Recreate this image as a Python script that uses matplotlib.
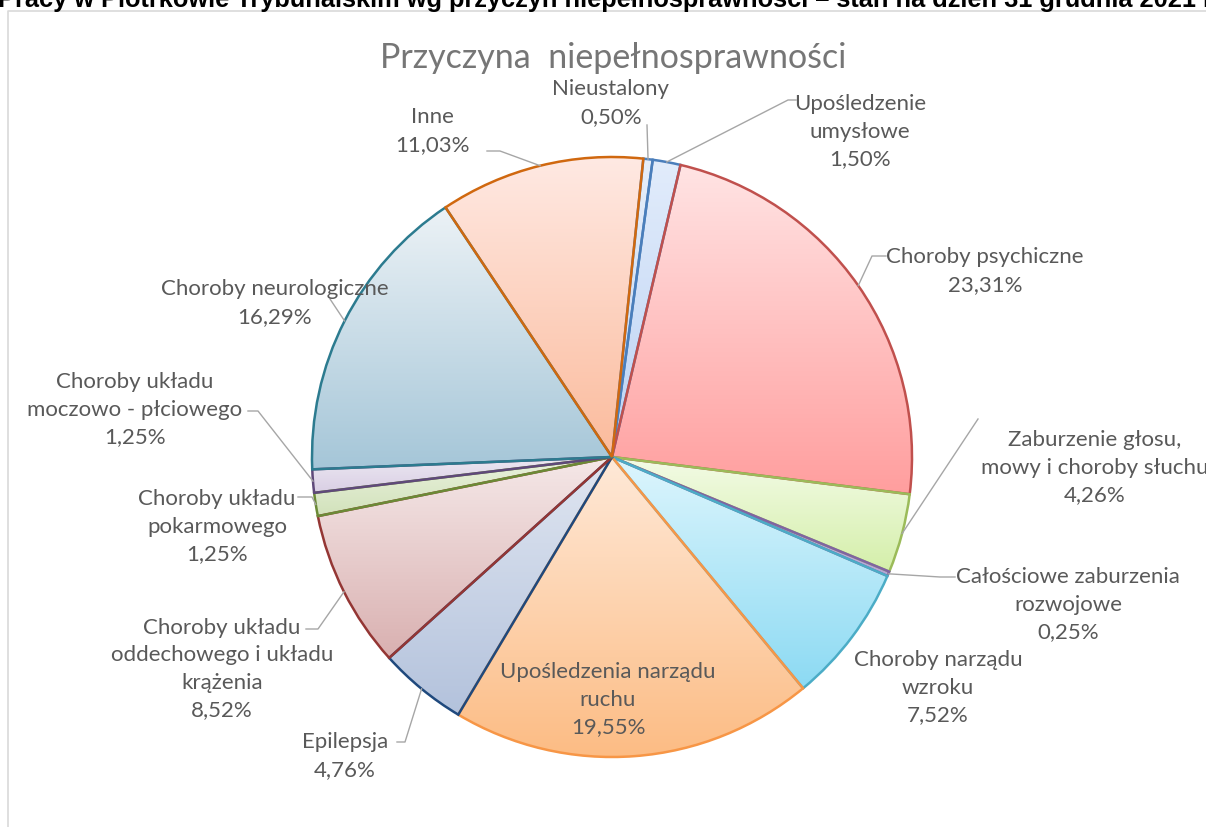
import numpy as np
import matplotlib
matplotlib.use("Agg")
import matplotlib.pyplot as plt
from matplotlib.colors import to_rgb

# ---------------- data ----------------
categories = [
    "Nieustalony",
    "Upośledzenie\numysłowe",
    "Choroby psychiczne",
    "Zaburzenie głosu,\nmowy i choroby słuchu",
    "Całościowe zaburzenia\nrozwojowe",
    "Choroby narządu\nwzroku",
    "Upośledzenia narządu\nruchu",
    "Epilepsja",
    "Choroby układu\noddechowego i układu\nkrążenia",
    "Choroby układu\npokarmowego",
    "Choroby układu\nmoczowo - płciowego",
    "Choroby neurologiczne",
    "Inne",
]
values = [0.50, 1.50, 23.31, 4.26, 0.25, 7.52, 19.55, 4.76, 8.52, 1.25, 1.25, 16.29, 11.03]

chart_title = "Przyczyna  niepełnosprawności"
header_text = ("Pracy w Piotrkowie Trybunalskim wg przyczyn niepełnosprawności – "
               "stan na dzień 31 grudnia 2021 r.")

# ---------------- styles ----------------
grad_top = ["#e6eefa", "#e2ecfb", "#ffe4e4", "#f3fbe6", "#d6cdea", "#def6fd", "#ffe9d8",
            "#e0e6f1", "#f5e8e8", "#eaf2de", "#ece7f2", "#ecf2f6", "#ffe9e3"]
grad_bot = ["#c3d6f2", "#bcd3f4", "#ff9e9e", "#d4efa9", "#b6a6d6", "#8cdaf3", "#fcbc84",
            "#b3c2dc", "#d9b0b0", "#d2e2bb", "#d9cfe4", "#a5c6d8", "#fbbb9c"]
edge_cols = ["#4f81bd", "#4a7ebb", "#c0504d", "#9bbb59", "#8064a2", "#4bacc6", "#f79646",
             "#1f497d", "#943634", "#6b8a36", "#5f497a", "#2c7b8f", "#d0680f"]
label_col = "#595959"
leader_col = "#a6a6a6"

W, H = 1206, 828
cx, cy, R = 612, 458, 300


def P(px, py):
    """pixel (from top-left) -> data coords (pie radius = 1)"""
    return ((px - cx) / R, (cy - py) / R)


fig = plt.figure(figsize=(W / 100, H / 100), dpi=100)
ax = fig.add_axes([0, 0, 1, 1])

wedges, _ = ax.pie(values, startangle=90 - 6, counterclock=False, radius=1,
                   center=(0, 0),
                   wedgeprops=dict(linewidth=1.8, facecolor="none"))

# gradient fill clipped to each wedge
n = 256
t = np.linspace(0, 1, n)[:, None]
for w, c0, c1, ec in zip(wedges, grad_top, grad_bot, edge_cols):
    w.set_edgecolor(ec)
    w.set_zorder(2)
    a, b = np.array(to_rgb(c0)), np.array(to_rgb(c1))
    img = (a[None, :] * (1 - t) + b[None, :] * t)[:, None, :]
    img = np.repeat(img, 2, axis=1)
    bb = w.get_path().get_extents()
    im = ax.imshow(img, extent=(bb.x0, bb.x1, bb.y0, bb.y1), origin="upper",
                   aspect="auto", zorder=1, interpolation="bilinear")
    im.set_clip_path(w)

ax.set_xlim(-cx / R, (W - cx) / R)
ax.set_ylim((cy - H) / R, cy / R)
ax.set_aspect("auto")
ax.axis("off")

# ---------------- labels ----------------
FONT = "Lato"
fs = 16
pct = [f"{v:.2f}%".replace(".", ",") for v in values]

# label centre positions (pixels) and leader paths (pixels, label side)
label_pos = [(611, 103), (860, 132), (985, 271), (1095, 468), (1068, 605),
             (938, 688), (608, 700), (345, 756), (222, 669), (217, 527),
             (135, 410), (275, 303), (432, 131)]
leaders = [[(647, 126)], [(796, 101), (788, 101)], [(886, 257), (872, 257)],
           [(978, 420)], [(955, 578), (940, 578)], None, None,
           [(397, 743), (405, 743)], [(306, 630), (318, 630)],
           [(298, 498), (312, 498)], [(248, 412), (258, 412)],
           [(330, 300)], [(487, 152), (500, 152)]]

for i, (w, lab) in enumerate(zip(wedges, categories)):
    x, y = P(*label_pos[i])
    ax.text(x, y, lab + "\n" + pct[i], ha="center", va="center",
            multialignment="center", fontsize=fs, family=FONT, color=label_col,
            linespacing=1.47, zorder=5)
    if leaders[i] is not None:
        ang = np.deg2rad((w.theta1 + w.theta2) / 2)
        pts = [P(*p) for p in leaders[i]] + [(np.cos(ang), np.sin(ang))]
        xs, ys = zip(*pts)
        ax.plot(xs, ys, color=leader_col, lw=1.0, zorder=4)

# chart title
ax.text(*P(613, 58), chart_title, ha="center", va="center", fontsize=24.5,
        family=FONT, color="#767676")

# outer frame of the chart (cut by the image edges)
fx0, fy0 = P(8, 12)
fx1, fy1 = P(W + 20, H + 20)
ax.plot([fx0, fx0, fx1], [fy1, fy0, fy0], color="#d9d9d9", lw=1.2, zorder=0,
        clip_on=False)

# header text cut by the top edge
fig.text(-0.002, 1 - 7 / H, header_text, ha="left", va="baseline",
         fontsize=18.3, fontweight="bold", family="Liberation Sans", color="black")

fig.savefig("out.png", dpi=100)
